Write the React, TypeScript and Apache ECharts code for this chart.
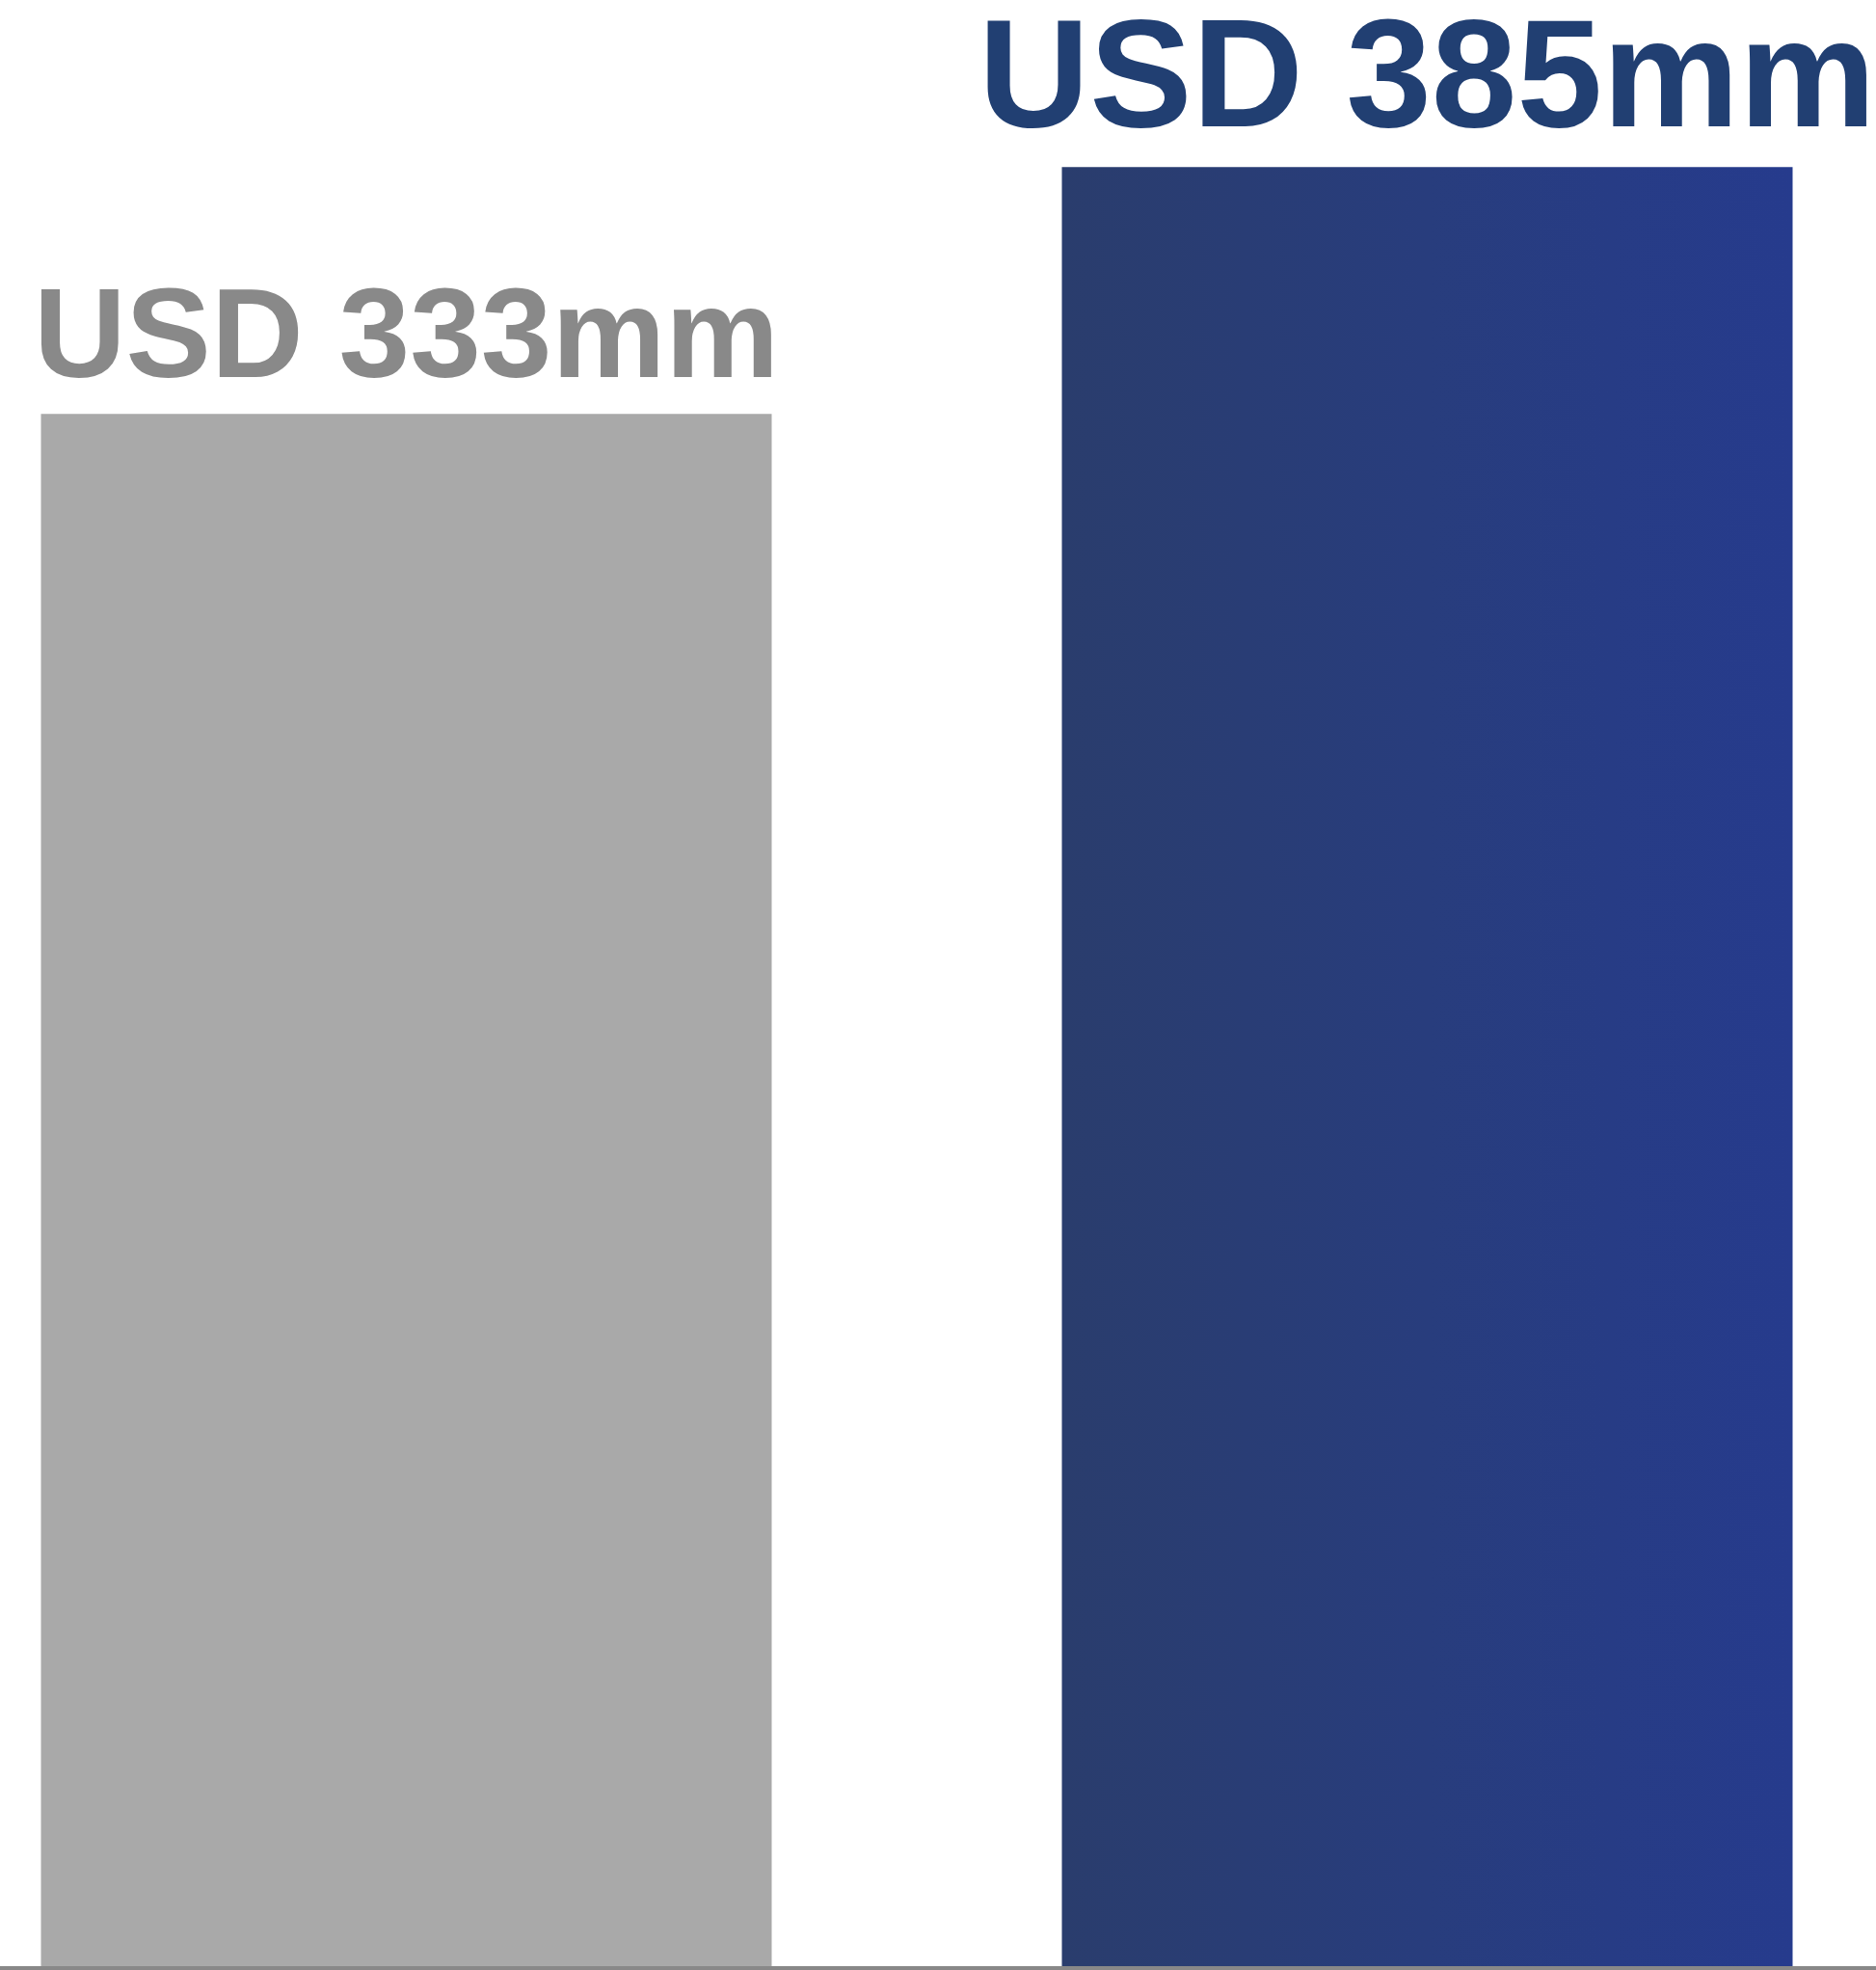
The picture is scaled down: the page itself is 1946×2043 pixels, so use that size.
import React, { useEffect, useRef } from "react";
import * as echarts from "echarts";

const categories = ["Before", "After"];
const values = [333, 385];
const labelPrefix = "USD ";
const labelSuffix = "mm";

const W = 1946;
const H = 2043;
const CHART_W = 2118;
const CHART_LEFT = -108.5;

export default function App() {
  const ref = useRef<HTMLDivElement>(null);

  useEffect(() => {
    if (!ref.current) return;
    const chart = echarts.init(ref.current, null, { renderer: "svg" });

    const itemStyles = [
      { color: "#a9a9a9" },
      {
        color: new echarts.graphic.LinearGradient(0, 0, 1, 0, [
          { offset: 0, color: "#2a3d6d" },
          { offset: 0.5, color: "#283d7d" },
          { offset: 1, color: "#263b8d" },
        ]),
      },
    ];
    const labelStyles = [
      { color: "#898989", fontSize: 132.5, lineHeight: 120, distance: 24 },
      { color: "#213f72", fontSize: 159.5, lineHeight: 140, distance: 27 },
    ];

    chart.setOption({
      animation: false,
      backgroundColor: "#ffffff",
      grid: { left: 0, right: 0, top: 0, bottom: 2, containLabel: false },
      xAxis: {
        type: "category",
        data: categories,
        z: 5,
        axisLine: { show: true, lineStyle: { color: "#888888", width: 4 } },
        axisTick: { show: false },
        axisLabel: { show: false },
        splitLine: { show: false },
      },
      yAxis: {
        type: "value",
        min: 5.6,
        max: 420.2,
        show: false,
        splitLine: { show: false },
      },
      series: [
        {
          type: "bar",
          barWidth: 758,
          data: values.map((v, i) => ({
            value: v,
            itemStyle: itemStyles[i],
            label: {
              show: true,
              position: "top",
              fontFamily: "Liberation Sans, Arial, sans-serif",
              fontWeight: "bold",
              formatter: (p: any) => `${labelPrefix}${p.value}${labelSuffix}`,
              ...labelStyles[i],
            },
          })),
        },
      ],
    });

    return () => chart.dispose();
  }, []);

  return (
    <div
      style={{
        position: "absolute",
        left: 0,
        top: 0,
        width: W,
        height: H,
        overflow: "hidden",
        background: "#fff",
      }}
    >
      <div
        ref={ref}
        style={{ position: "absolute", left: CHART_LEFT, top: 0, width: CHART_W, height: H }}
      />
    </div>
  );
}
